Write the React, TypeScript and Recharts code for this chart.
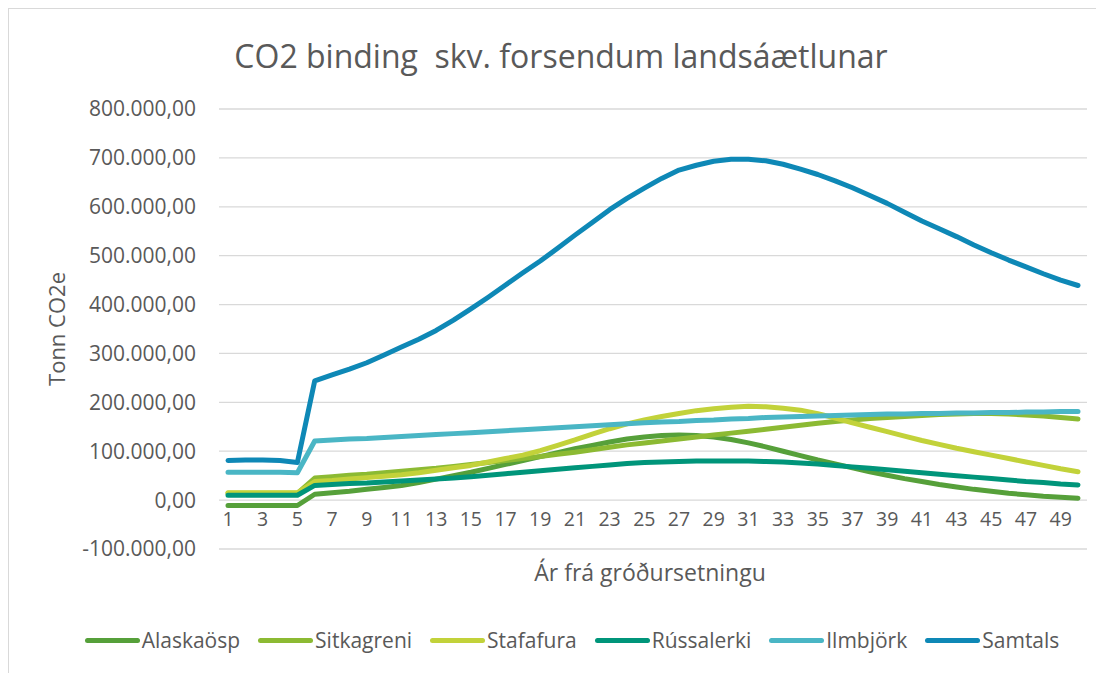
import { CartesianGrid, Line, LineChart, XAxis, YAxis } from "recharts";

// Values in thousands of tonnes CO2e, years 1..50
const years = Array.from({ length: 50 }, (_, i) => i + 1);

const alaskaosp = [
  -11, -11, -11, -11, -11, 12, 15, 18, 22, 26, 30, 36, 43, 50, 57, 65, 73, 81, 89, 97,
  105, 112, 119, 125, 129, 132, 133, 132, 129, 124, 117, 109, 100, 91, 82, 74, 66, 58, 51, 44,
  38, 32, 27, 22, 18, 14, 11, 8, 6, 4,
];
const sitkagreni = [
  14, 14, 14, 14, 14, 45, 48, 51, 53, 56, 59, 62, 65, 69, 73, 77, 81, 85, 89, 94,
  98, 103, 108, 113, 117, 121, 125, 129, 133, 137, 141, 145, 149, 153, 157, 161, 164, 167, 169, 171,
  173, 175, 176, 177, 177, 176, 174, 172, 169, 166,
];
const stafafura = [
  15, 15, 15, 15, 15, 38, 40, 43, 46, 49, 52, 56, 61, 66, 71, 78, 85, 92, 101, 112,
  123, 135, 146, 156, 164, 171, 177, 183, 187, 190, 192, 191, 188, 184, 177, 168, 158, 149, 140, 131,
  122, 114, 106, 99, 92, 85, 78, 71, 64, 58,
];
const russalerki = [
  10, 10, 10, 10, 10, 30, 32, 34, 35, 37, 39, 41, 43, 45, 48, 51, 54, 57, 60, 63,
  66, 69, 72, 75, 77, 78, 79, 80, 80, 80, 80, 79, 78, 76, 74, 71, 68, 65, 62, 59,
  56, 53, 50, 47, 44, 41, 38, 36, 33, 31,
];
const ilmbjork = [
  57, 57, 57, 57, 56, 121, 123, 125, 126, 128, 130, 132, 134, 136, 138, 140, 142, 144, 146, 148,
  150, 152, 154, 156, 158, 160, 161, 163, 164, 166, 167, 169, 170, 171, 172, 173, 174, 175, 176, 176,
  177, 177, 178, 178, 179, 179, 180, 180, 181, 181,
];
const samtals = [
  81, 82, 82, 81, 77, 244, 256, 268, 281, 297, 313, 329, 347, 368, 391, 415, 440, 465, 489, 515,
  542, 568, 594, 617, 638, 658, 675, 685, 693, 697, 697, 694, 687, 677, 666, 653, 639, 623, 607, 589,
  571, 555, 539, 522, 506, 491, 477, 463, 450, 439,
];

const yTicks = [-100, 0, 100, 200, 300, 400, 500, 600, 700, 800];

const series = [
  { key: "alaskaosp", name: "Alaskaösp", color: "#56a03a", values: alaskaosp },
  { key: "sitkagreni", name: "Sitkagreni", color: "#8cba33", values: sitkagreni },
  { key: "stafafura", name: "Stafafura", color: "#c2d23a", values: stafafura },
  { key: "russalerki", name: "Rússalerki", color: "#00957a", values: russalerki },
  { key: "ilmbjork", name: "Ilmbjörk", color: "#4ab6c5", values: ilmbjork },
  { key: "samtals", name: "Samtals", color: "#0e88b6", values: samtals },
];

const data = years.map((year, i) => {
  const row: Record<string, number> = { year };
  series.forEach((s) => {
    row[s.key] = s.values[i];
  });
  return row;
});

const FONT = "'Open Sans', sans-serif";
const TEXT = "#595959";

function formatTonnes(v: number): string {
  const n = Math.round(Math.abs(v) * 1000);
  const s = String(n).replace(/\B(?=(\d{3})+(?!\d))/g, ".");
  return `${v < 0 ? "-" : ""}${s},00`;
}

interface TickProps {
  x?: number;
  y?: number;
  payload?: { value: number };
}

// Excel puts the category labels under the zero line, not at the plot bottom
function YearTick({ x = 0, y = 0, payload }: TickProps) {
  return (
    <text x={x} y={y - 30} dy="0.36em" textAnchor="middle" fill={TEXT} fontSize={19.5} fontFamily={FONT}>
      {payload?.value}
    </text>
  );
}

export default function App() {
  return (
    <div
      style={{
        position: "relative",
        width: 1096,
        height: 665,
        borderTop: "1px solid #d9d9d9",
        borderLeft: "1px solid #d9d9d9",
        boxSizing: "border-box",
        background: "#fff",
        fontFamily: FONT,
        color: TEXT,
      }}
    >
      <div
        style={{
          position: "absolute",
          top: 25,
          left: 0,
          width: 1104,
          textAlign: "center",
          fontSize: 32,
        }}
      >
        CO2 binding&nbsp; skv. forsendum landsáætlunar
      </div>

      <div style={{ position: "absolute", top: 0, left: 0 }}>
        <LineChart
          width={1095}
          height={664}
          data={data}
          margin={{ top: 100, right: 17, bottom: 94, left: 0 }}
        >
          <CartesianGrid horizontal vertical={false} stroke="#d9d9d9" strokeWidth={1.3} />
          <XAxis
            dataKey="year"
            interval={1}
            axisLine={false}
            tickLine={false}
            tickSize={0}
            tickMargin={0}
            height={30}
            padding={{ left: 9, right: 9 }}
            tick={<YearTick />}
            label={({ viewBox }: any) => (
              <text
                x={viewBox.x + viewBox.width / 2 - 3}
                y={viewBox.y + 24}
                dy="0.36em"
                textAnchor="middle"
                fill={TEXT}
                fontSize={23}
                fontFamily={FONT}
              >
                Ár frá gróðursetningu
              </text>
            )}
          />
          <YAxis
            type="number"
            domain={[-100, 800]}
            ticks={yTicks}
            width={210}
            axisLine={false}
            tickLine={false}
            tickSize={0}
            tickMargin={23}
            tickFormatter={formatTonnes}
            tick={{ fill: TEXT, fontSize: 21, fontFamily: FONT }}
            label={({ viewBox }: any) => {
              const cx = 48;
              const cy = viewBox.y + viewBox.height / 2;
              return (
                <text
                  x={cx}
                  y={cy}
                  dy="0.36em"
                  textAnchor="middle"
                  transform={`rotate(-90, ${cx}, ${cy})`}
                  fill={TEXT}
                  fontSize={22}
                  fontFamily={FONT}
                >
                  Tonn CO2e
                </text>
              );
            }}
          />
          {series.map((s) => (
            <Line
              key={s.key}
              type="linear"
              dataKey={s.key}
              name={s.name}
              stroke={s.color}
              strokeWidth={5}
              strokeLinecap="round"
              strokeLinejoin="round"
              dot={false}
              activeDot={false}
              isAnimationActive={false}
            />
          ))}
        </LineChart>
      </div>

      <div
        style={{
          position: "absolute",
          top: 617,
          left: 0,
          width: 1126,
          display: "flex",
          justifyContent: "center",
          alignItems: "center",
          gap: 18,
          fontSize: 21,
        }}
      >
        {series.map((s) => (
          <div key={s.key} style={{ display: "flex", alignItems: "center" }}>
            <span
              style={{
                display: "inline-block",
                width: 55,
                height: 5,
                borderRadius: 3,
                background: s.color,
                marginRight: 2,
              }}
            />
            <span>{s.name}</span>
          </div>
        ))}
      </div>
    </div>
  );
}
